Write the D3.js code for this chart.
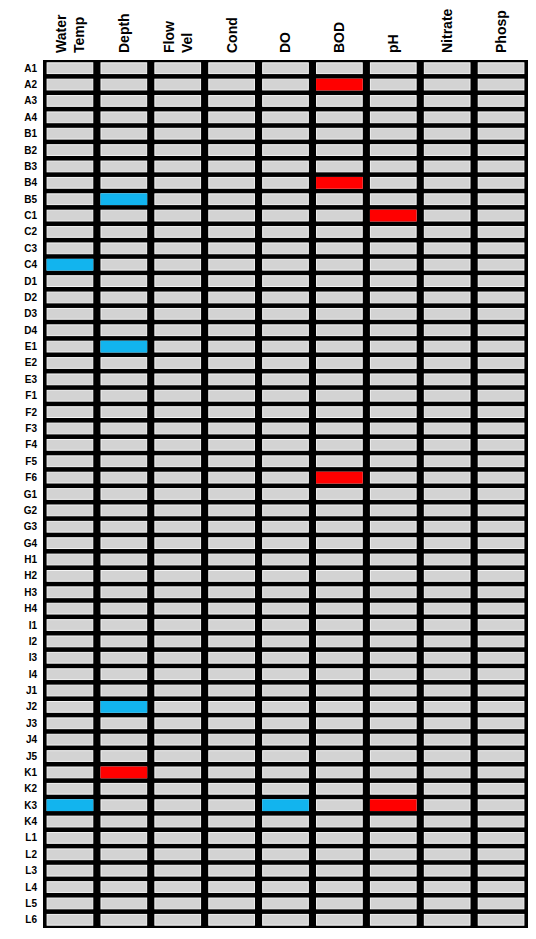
<!DOCTYPE html>
<html><head><meta charset="utf-8">
<script src="https://cdn.jsdelivr.net/npm/d3@7"></script>
<style>html,body{margin:0;padding:0;background:#fff}</style>
</head><body>
<svg id="chart" width="536" height="939"></svg>
<script>
const columns = [["Water","Temp"],["Depth"],["Flow","Vel"],["Cond"],["DO"],["BOD"],["pH"],["Nitrate"],["Phosp"]];
const columnKeys = ["Water Temp","Depth","Flow Vel","Cond","DO","BOD","pH","Nitrate","Phosp"];
const rows = ["A1","A2","A3","A4","B1","B2","B3","B4","B5","C1","C2","C3","C4","D1","D2","D3","D4","E1","E2","E3","F1","F2","F3","F4","F5","F6","G1","G2","G3","G4","H1","H2","H3","H4","I1","I2","I3","I4","J1","J2","J3","J4","J5","K1","K2","K3","K4","L1","L2","L3","L4","L5","L6"];
// flagged cells: [row, column]
const redCells = [["A2","BOD"],["B4","BOD"],["C1","pH"],["F6","BOD"],["K1","Depth"],["K3","pH"]];
const blueCells = [["B5","Depth"],["C4","Water Temp"],["E1","Depth"],["J2","Depth"],["K3","Water Temp"],["K3","DO"]];

const svg = d3.select("#chart");
const gLeft = 43, gRight = 528, gTop = 60, gBottom = 928;
const x = d3.scaleBand().domain(columnKeys).range([gLeft, gRight]).padding(0);
const y = d3.scaleBand().domain(rows).range([gTop, gBottom]).padding(0);

// black background grid
svg.append("rect").attr("x", gLeft).attr("y", gTop).attr("width", gRight-gLeft).attr("height", gBottom-gTop).attr("fill", "#000");

const ix = 3.6, iy = 2.3;
const cells = [];
rows.forEach(r => columnKeys.forEach(c => cells.push({r, c})));
svg.append("g").selectAll("rect").data(cells).join("rect")
  .attr("x", d => x(d.c) + ix + 0.5)
  .attr("y", d => y(d.r) + iy + 0.5)
  .attr("width", x.bandwidth() - 2*ix - 1)
  .attr("height", y.bandwidth() - 2*iy - 1)
  .attr("fill", "#d3d3d3")
  .attr("stroke", "#f4f4f4")
  .attr("stroke-width", 1);

const flagged = redCells.map(d => ({r:d[0], c:d[1], col:"#ff0000"}))
  .concat(blueCells.map(d => ({r:d[0], c:d[1], col:"#12b4ee"})));
svg.append("g").selectAll("rect").data(flagged).join("rect")
  .attr("x", d => x(d.c) + ix)
  .attr("y", d => y(d.r) + iy)
  .attr("width", x.bandwidth() - 2*ix)
  .attr("height", y.bandwidth() - 2*iy)
  .attr("fill", d => d.col);

// row labels
svg.append("g").selectAll("text").data(rows).join("text")
  .attr("x", 37)
  .attr("y", d => y(d) + y.bandwidth()/2)
  .attr("dy", "0.35em")
  .attr("text-anchor", "end")
  .attr("font-family", "Liberation Sans, Arial, sans-serif")
  .attr("font-weight", "bold")
  .attr("font-size", 10)
  .attr("fill", "#000")
  .text(d => d);

// column headers, rotated
const hdr = svg.append("g").selectAll("g").data(columnKeys).join("g")
  .attr("transform", (d,i) => `translate(${x(d) + x.bandwidth()/2},53) rotate(-90)`);
hdr.each(function(d,i){
  const lines = columns[i];
  const g = d3.select(this);
  const lh = 18;
  lines.forEach((t, j) => {
    const off = (j - (lines.length-1)/2) * lh;
    g.append("text")
      .attr("x", 0)
      .attr("y", off)
      .attr("dy", "0.35em")
      .attr("text-anchor", "start")
      .attr("font-family", "Liberation Sans, Arial, sans-serif")
      .attr("font-weight", "bold")
      .attr("font-size", 14)
      .attr("fill", "#000")
      .text(t);
  });
});
</script>
</body></html>
